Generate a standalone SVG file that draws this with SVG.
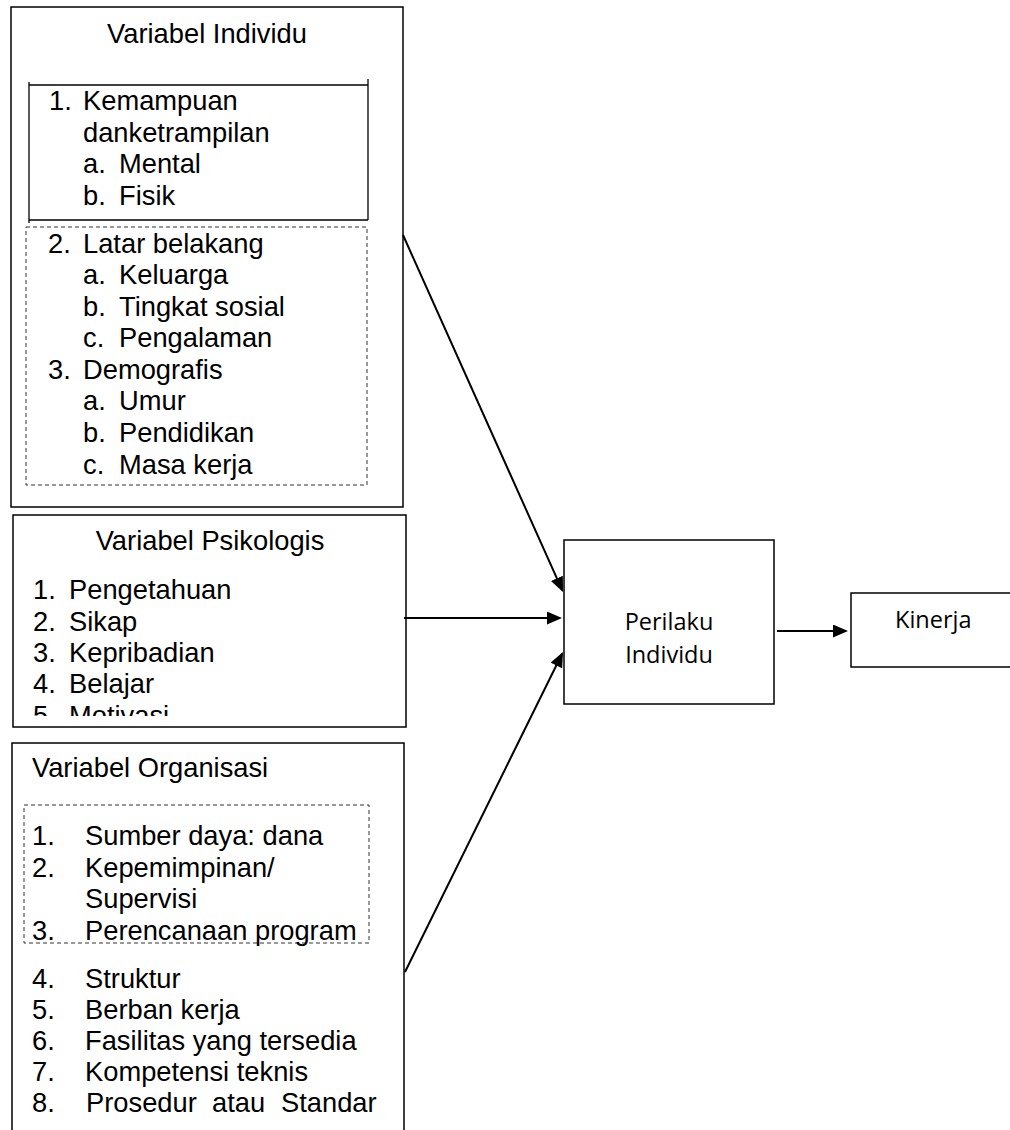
<svg xmlns="http://www.w3.org/2000/svg" width="1010" height="1130" viewBox="0 0 1010 1130">
  <style>
    .box { fill: #fff; stroke: #000; stroke-width: 1.5; }
    .inner { fill: none; stroke: #000; stroke-width: 1.3; }
    .dash { fill: none; stroke: #333; stroke-width: 1; stroke-dasharray: 4 3; }
    .t { font-family: "Liberation Sans", Arial, sans-serif; font-size: 27.3px; fill: #000; }
    .s { font-family: "Open Sans", "Noto Sans", sans-serif; font-size: 23.5px; fill: #000; }
    .conn { stroke: #000; stroke-width: 2; fill: none; marker-end: url(#ah); }
  </style>
  <defs>
    <marker id="ah" markerUnits="userSpaceOnUse" markerWidth="15" markerHeight="13" refX="13" refY="6.5" orient="auto">
      <path d="M0,0 L15,6.5 L0,13 z" fill="#000"/>
    </marker>
    <clipPath id="clipPsi">
      <rect x="13" y="515" width="393" height="201"/>
    </clipPath>
  </defs>
  <rect width="1010" height="1130" fill="#fff"/>

  <g id="variabel-individu">
    <rect class="box" x="11" y="7" width="392" height="500"/>
    <text class="t" x="207" y="43" text-anchor="middle">Variabel Individu</text>
    <line class="inner" x1="29" y1="85" x2="368" y2="85"/>
    <line class="inner" x1="29" y1="220" x2="368" y2="220"/>
    <line class="inner" x1="29" y1="82" x2="29" y2="223"/>
    <line class="inner" x1="368" y1="79" x2="368" y2="220"/>
    <text class="t" x="49" y="110">1.</text>
    <text class="t" x="83" y="110">Kemampuan</text>
    <text class="t" x="83" y="142">danketrampilan</text>
    <text class="t" x="83" y="173">a.</text>
    <text class="t" x="119" y="173">Mental</text>
    <text class="t" x="83" y="205">b.</text>
    <text class="t" x="119" y="205">Fisik</text>
    <rect class="dash" x="26" y="227" width="341" height="258"/>
    <text class="t" x="48" y="253">2.</text>
    <text class="t" x="83" y="253">Latar belakang</text>
    <text class="t" x="83" y="284">a.</text>
    <text class="t" x="119" y="284">Keluarga</text>
    <text class="t" x="83" y="316">b.</text>
    <text class="t" x="119" y="316">Tingkat sosial</text>
    <text class="t" x="83" y="347">c.</text>
    <text class="t" x="119" y="347">Pengalaman</text>
    <text class="t" x="48" y="379">3.</text>
    <text class="t" x="83" y="379">Demografis</text>
    <text class="t" x="83" y="410">a.</text>
    <text class="t" x="119" y="410">Umur</text>
    <text class="t" x="83" y="442">b.</text>
    <text class="t" x="119" y="442">Pendidikan</text>
    <text class="t" x="83" y="474">c.</text>
    <text class="t" x="119" y="474">Masa kerja</text>
  </g>

  <g id="variabel-psikologis">
    <rect class="box" x="13" y="515" width="393" height="212"/>
    <text class="t" x="210" y="550" text-anchor="middle">Variabel Psikologis</text>
    <g clip-path="url(#clipPsi)">
      <text class="t" x="33" y="599">1.</text>
      <text class="t" x="69" y="599">Pengetahuan</text>
      <text class="t" x="33" y="630.5">2.</text>
      <text class="t" x="69" y="630.5">Sikap</text>
      <text class="t" x="33" y="662">3.</text>
      <text class="t" x="69" y="662">Kepribadian</text>
      <text class="t" x="33" y="693">4.</text>
      <text class="t" x="69" y="693">Belajar</text>
      <text class="t" x="33" y="725">5.</text>
      <text class="t" x="69" y="725">Motivasi</text>
    </g>
  </g>

  <g id="variabel-organisasi">
    <rect class="box" x="12" y="743" width="392" height="400"/>
    <text class="t" x="32" y="777">Variabel Organisasi</text>
    <rect class="dash" x="24" y="805" width="345" height="138"/>
    <text class="t" x="32" y="845">1.</text>
    <text class="t" x="85" y="845">Sumber daya: dana</text>
    <text class="t" x="32" y="876.5">2.</text>
    <text class="t" x="85" y="876.5">Kepemimpinan/</text>
    <text class="t" x="85" y="908">Supervisi</text>
    <text class="t" x="32" y="940">3.</text>
    <text class="t" x="85" y="940">Perencanaan program</text>
    <text class="t" x="32" y="988">4.</text>
    <text class="t" x="85" y="988">Struktur</text>
    <text class="t" x="32" y="1019">5.</text>
    <text class="t" x="85" y="1019">Berban kerja</text>
    <text class="t" x="32" y="1050">6.</text>
    <text class="t" x="85" y="1050">Fasilitas yang tersedia</text>
    <text class="t" x="32" y="1081">7.</text>
    <text class="t" x="85" y="1081">Kompetensi teknis</text>
    <text class="t" x="32" y="1112">8.</text>
    <text class="t" y="1112"><tspan x="86">Prosedur</tspan><tspan x="212">atau</tspan><tspan x="281">Standar</tspan></text>
  </g>

  <g id="perilaku-individu">
    <rect class="box" x="564" y="540" width="210" height="164"/>
    <text class="s" x="669" y="629.5" text-anchor="middle">Perilaku</text>
    <text class="s" x="669" y="663" text-anchor="middle">Individu</text>
  </g>

  <g id="kinerja">
    <rect class="box" x="851" y="593" width="170" height="74"/>
    <text class="s" x="895" y="628">Kinerja</text>
  </g>

  <g id="connectors">
    <line class="conn" x1="403" y1="235" x2="562.2" y2="590.2"/>
    <line class="conn" x1="404" y1="618" x2="560" y2="618"/>
    <line class="conn" x1="405" y1="972" x2="562.1" y2="653.8"/>
    <line class="conn" x1="777" y1="631" x2="846" y2="631"/>
  </g>
</svg>
